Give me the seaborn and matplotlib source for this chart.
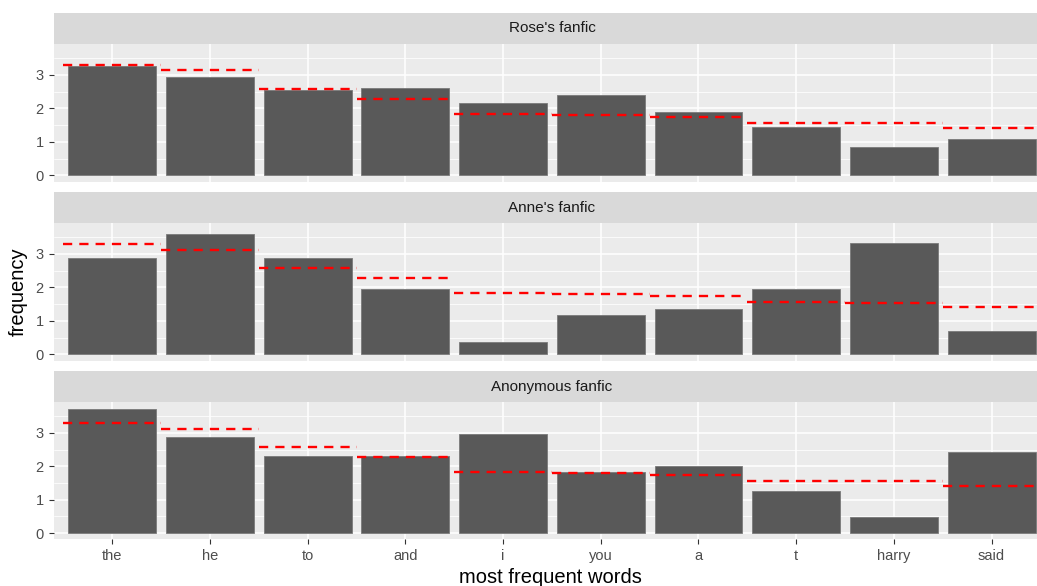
import numpy as np
import pandas as pd
import seaborn as sns
import matplotlib
matplotlib.use("Agg")
import matplotlib.pyplot as plt

words = ["the", "he", "to", "and", "i", "you", "a", "t", "harry", "said"]
panels = ["Rose's fanfic", "Anne's fanfic", "Anonymous fanfic"]
rose = [3.26, 2.93, 2.55, 2.60, 2.15, 2.41, 1.88, 1.44, 0.84, 1.10]
anne = [2.87, 3.59, 2.87, 1.96, 0.38, 1.17, 1.37, 1.96, 3.33, 0.70]
anon = [3.73, 2.87, 2.30, 2.30, 2.98, 1.83, 2.01, 1.26, 0.48, 2.42]
yticks = [0, 1, 2, 3]

sns.set_theme(style="darkgrid")
plt.rcParams["font.family"] = ["Liberation Sans", "DejaVu Sans"]

W, H = 1037, 586
fig = plt.figure(figsize=(W / 100, H / 100), dpi=100)

series = [rose, anne, anon]
mean = np.mean(np.array(series), axis=0)
n = len(words)
ymax = max(max(s) for s in series)

x_left, x_right = 53.7, 1050.2
rows = [(13, 44, 181.7), (192, 223.3, 360.7), (371, 402.3, 539.3)]

def fx(px):
    return px / W

def fy(py):
    return 1 - py / H

for k, (name, vals) in enumerate(zip(panels, series)):
    s_top, p_top, p_bot = rows[k]
    sax = fig.add_axes([fx(x_left), fy(p_top), fx(x_right - x_left), (p_top - s_top) / H])
    sax.set_facecolor("#D9D9D9")
    sax.set_xticks([]); sax.set_yticks([])
    for sp in sax.spines.values():
        sp.set_visible(False)
    sax.text(0.5, 0.5, name, transform=sax.transAxes, ha="center", va="center",
             fontsize=11, color="#1A1A1A")
    sax.grid(False)

    ax = fig.add_axes([fx(x_left), fy(p_bot), fx(x_right - x_left), (p_bot - p_top) / H])
    ax.set_facecolor("#EBEBEB")
    df = pd.DataFrame({"word": words, "freq": vals})
    sns.barplot(data=df, x="word", y="freq", ax=ax, color="#595959", saturation=1,
                width=0.9, order=words, zorder=3, linewidth=0.6, edgecolor="#7a7a7a")
    xs = np.arange(n)
    ax.hlines(mean, xs - 0.5, xs + 0.5, color="red", lw=1.7,
              linestyles=[(0, (3.9, 3.0))], zorder=4)

    ax.set_xlim(-0.6, n - 0.4)
    ax.set_ylim(-0.05 * ymax, 1.05 * ymax)
    ax.set_yticks(yticks)
    ax.set_yticks([0.5, 1.5, 2.5, 3.5], minor=True)
    ax.grid(which="major", color="white", lw=1.1, zorder=0)
    ax.grid(which="minor", axis="y", color="white", lw=0.55, zorder=0)
    ax.set_axisbelow(True)
    for sp in ax.spines.values():
        sp.set_visible(False)
    ax.tick_params(axis="both", which="major", length=3.6, width=0.8, color="#333333",
                   labelcolor="#4D4D4D", labelsize=10.5, pad=3.5, left=True, bottom=True)
    ax.tick_params(axis="y", which="minor", length=0)
    ax.set_xlabel(""); ax.set_ylabel("")
    if k < 2:
        ax.set_xticklabels([])
        ax.tick_params(axis="x", which="major", length=0)

fig.text(fx(550), fy(583), "most frequent words", ha="center", va="baseline", fontsize=14.5, color="black")
fig.text(fx(18), fy(292), "frequency", ha="center", va="center", rotation=90, fontsize=14.5, color="black")

fig.savefig("out.png", dpi=100)
